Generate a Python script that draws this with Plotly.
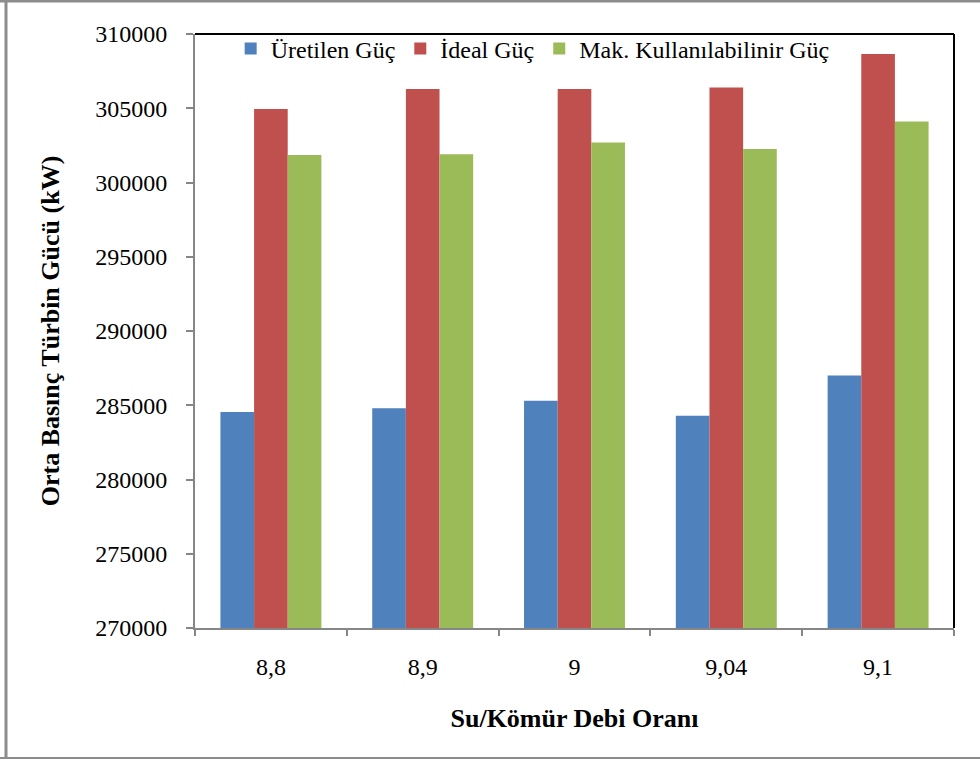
import plotly.graph_objects as go

# Su/Kömür debi oranı kategorileri
categories = ["8,8", "8,9", "9", "9,04", "9,1"]

# Orta basınç türbin gücü (kW)
uretilen_guc = [284550, 284800, 285300, 284300, 287000]
ideal_guc = [304950, 306300, 306300, 306400, 308650]
mak_kullanilabilir_guc = [301850, 301900, 302700, 302250, 304100]

series_names = ["Üretilen Güç", "İdeal Güç", "Mak. Kullanılabilinir Güç"]
series_colors = ["#4f81bd", "#c0504d", "#9bbb59"]

y_ticks = [270000, 275000, 280000, 285000, 290000, 295000, 300000, 305000, 310000]

FONT = "Liberation Serif"

fig = go.Figure()
for name, vals, color in zip(series_names,
                             [uretilen_guc, ideal_guc, mak_kullanilabilir_guc],
                             series_colors):
    fig.add_trace(go.Bar(
        x=categories, y=vals, name=name,
        marker=dict(color=color, line=dict(width=0)),
    ))

fig.update_layout(
    width=980, height=760,
    margin=dict(l=195, r=26, t=34, b=132, autoexpand=False),
    paper_bgcolor="white", plot_bgcolor="white",
    barmode="group", bargap=0.335, bargroupgap=0,
    font=dict(family=FONT, size=24, color="black"),
    showlegend=True,
    legend=dict(
        orientation="h", x=0.047, y=1.013, xanchor="left", yanchor="top",
        font=dict(family=FONT, size=24, color="black"),
        bgcolor="rgba(0,0,0,0)", itemwidth=30, tracegroupgap=0,
    ),
    xaxis=dict(
        type="category",
        showgrid=False, zeroline=False,
        showline=True, linecolor="#868686", linewidth=2,
        ticks="outside", tickson="boundaries", ticklen=6, tickcolor="#868686", tickwidth=2,
        ticklabelstandoff=16,
        tickfont=dict(family=FONT, size=24, color="black"),
        title=dict(text="<b>Su/Kömür Debi Oranı</b>", standoff=30,
                   font=dict(family=FONT, size=26, color="black")),
    ),
    yaxis=dict(
        range=[270000, 310000], autorange=False,
        tickvals=y_ticks, ticktext=[str(v) for v in y_ticks],
        showgrid=False, zeroline=False,
        showline=True, linecolor="#868686", linewidth=2,
        ticks="outside", ticklen=7, tickcolor="#868686", tickwidth=2,
        ticklabelstandoff=14,
        tickfont=dict(family=FONT, size=24, color="black"),
        title=dict(text="<b>Orta Basınç Türbin Gücü (kW)</b>", standoff=28,
                   font=dict(family=FONT, size=26, color="black")),
    ),
    shapes=[
        # top and right edges of the plotting area
        dict(type="line", xref="paper", yref="paper", x0=0, x1=1, y0=1, y1=1,
             line=dict(color="black", width=2)),
        dict(type="line", xref="paper", yref="paper", x0=1, x1=1, y0=0, y1=1,
             line=dict(color="black", width=2)),
        # outer chart frame
        dict(type="line", xref="paper", yref="paper",
             x0=-195/759, x1=1 + 26/759, y0=1 + 33/594, y1=1 + 33/594,
             line=dict(color="#8c8c8c", width=3)),
        dict(type="line", xref="paper", yref="paper",
             x0=-189/759, x1=-189/759, y0=-131/594, y1=1 + 34/594,
             line=dict(color="#8c8c8c", width=3)),
        dict(type="line", xref="paper", yref="paper",
             x0=-195/759, x1=1 + 26/759, y0=-130/594, y1=-130/594,
             line=dict(color="#8c8c8c", width=2)),
    ],
)

fig.write_html("out.html")
